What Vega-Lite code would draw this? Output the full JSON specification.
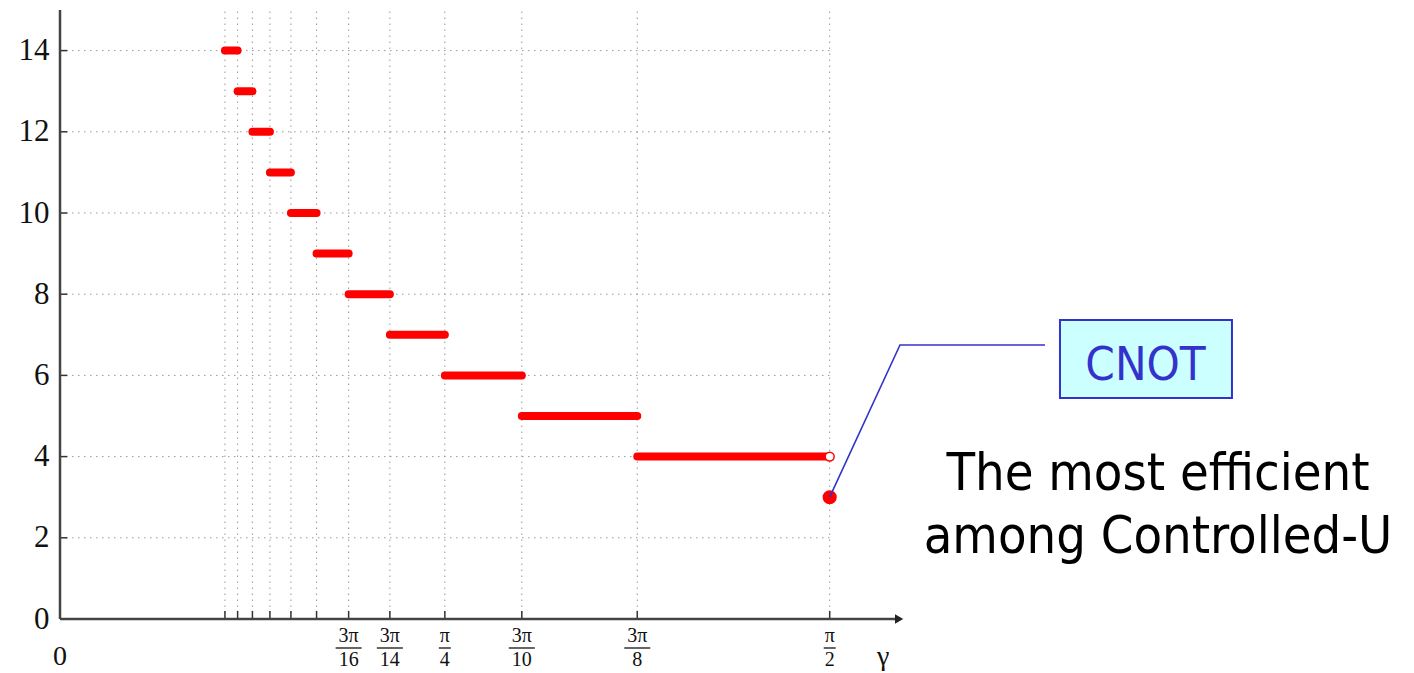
{
  "$schema": "https://vega.github.io/schema/vega-lite/v6.json",
  "width": 845,
  "height": 609,
  "autosize": "none",
  "padding": {"left": 60, "top": 10, "right": 509, "bottom": 54},
  "background": "white",
  "config": {"view": {"stroke": null}},
  "datasets": {
    "ticks": [
      {"g": 0.33660}, {"g": 0.36249}, {"g": 0.39270}, {"g": 0.42840}, {"g": 0.47124}, {"g": 0.52360},
      {"g": 0.58905}, {"g": 0.67320}, {"g": 0.78540}, {"g": 0.94248}, {"g": 1.17810}, {"g": 1.57080}
    ],
    "ygrid": [{"v": 2}, {"v": 4}, {"v": 6}, {"v": 8}, {"v": 10}, {"v": 12}, {"v": 14}],
    "segs": [
      {"k": 14, "lo": 0.33660, "hi": 0.36249},
      {"k": 13, "lo": 0.36249, "hi": 0.39270},
      {"k": 12, "lo": 0.39270, "hi": 0.42840},
      {"k": 11, "lo": 0.42840, "hi": 0.47124},
      {"k": 10, "lo": 0.47124, "hi": 0.52360},
      {"k": 9, "lo": 0.52360, "hi": 0.58905},
      {"k": 8, "lo": 0.58905, "hi": 0.67320},
      {"k": 7, "lo": 0.67320, "hi": 0.78540},
      {"k": 6, "lo": 0.78540, "hi": 0.94248},
      {"k": 5, "lo": 0.94248, "hi": 1.17810},
      {"k": 4, "lo": 1.17810, "hi": 1.57080}
    ],
    "fracs": [
      {"g": 0.58905, "num": "3π", "den": "16", "wide": true},
      {"g": 0.67320, "num": "3π", "den": "14", "wide": true},
      {"g": 0.78540, "num": "π", "den": "4", "wide": false},
      {"g": 0.94248, "num": "3π", "den": "10", "wide": true},
      {"g": 1.17810, "num": "3π", "den": "8", "wide": true},
      {"g": 1.57080, "num": "π", "den": "2", "wide": false}
    ],
    "callout": [
      {"i": 0, "x": 2.0102, "y": 6.749},
      {"i": 1, "x": 1.7143, "y": 6.749},
      {"i": 2, "x": 1.5708, "y": 3.0}
    ],
    "box": [{"x1": 2.0408, "x2": 2.3918, "y1": 7.365, "y2": 5.443, "label": "CNOT", "lx": 2.2153, "ly": 5.887}],
    "notes": [
      {"x": 2.2408, "y": 3.177, "text": "The most efficient"},
      {"x": 2.2408, "y": 1.626, "text": "among Controlled-U"}
    ]
  },
  "layer": [
    {
      "data": {"name": "ticks"},
      "mark": {"type": "rule", "color": "#999999", "strokeWidth": 1, "strokeDash": [1.5, 4.5]},
      "encoding": {
        "x": {"field": "g", "type": "quantitative", "scale": {"domain": [0, 1.7245], "nice": false, "zero": false}, "axis": null},
        "y": {"datum": 0, "type": "quantitative", "scale": {"domain": [0, 15], "nice": false}},
        "y2": {"datum": 15}
      }
    },
    {
      "data": {"name": "ygrid"},
      "mark": {"type": "rule", "color": "#999999", "strokeWidth": 1, "strokeDash": [1.5, 4.5]},
      "encoding": {
        "y": {"field": "v", "type": "quantitative", "scale": {"domain": [0, 15], "nice": false},
              "axis": {"values": [0, 2, 4, 6, 8, 10, 12, 14], "domain": false, "ticks": false, "tickSize": 0, "grid": false,
                       "title": null, "labelFont": "Liberation Serif", "labelFontSize": 31, "labelColor": "#111111", "labelPadding": 11}},
        "x": {"datum": 0, "type": "quantitative", "scale": {"domain": [0, 1.7245], "nice": false, "zero": false}},
        "x2": {"datum": 1.5708}
      }
    },
    {
      "data": {"name": "ticks"},
      "mark": {"type": "rule", "color": "#333333", "strokeWidth": 1.5},
      "encoding": {
        "x": {"field": "g", "type": "quantitative", "scale": {"domain": [0, 1.7245], "nice": false, "zero": false}},
        "y": {"datum": 0, "type": "quantitative", "scale": {"domain": [0, 15], "nice": false}},
        "y2": {"datum": 0.2}
      }
    },
    {
      "data": {"name": "ygrid"},
      "mark": {"type": "rule", "color": "#333333", "strokeWidth": 1.5},
      "encoding": {
        "y": {"field": "v", "type": "quantitative", "scale": {"domain": [0, 15], "nice": false}},
        "x": {"datum": 0, "type": "quantitative", "scale": {"domain": [0, 1.7245], "nice": false, "zero": false}},
        "x2": {"datum": 0.015}
      }
    },
    {
      "data": {"values": [{}]},
      "mark": {"type": "rule", "color": "#444444", "strokeWidth": 2.5},
      "encoding": {
        "x": {"datum": 0, "type": "quantitative", "scale": {"domain": [0, 1.7245], "nice": false, "zero": false}},
        "x2": {"datum": 1.705},
        "y": {"datum": 0, "type": "quantitative", "scale": {"domain": [0, 15], "nice": false}}
      }
    },
    {
      "data": {"values": [{}]},
      "mark": {"type": "rule", "color": "#444444", "strokeWidth": 2.5},
      "encoding": {
        "x": {"datum": 0, "type": "quantitative", "scale": {"domain": [0, 1.7245], "nice": false, "zero": false}},
        "y": {"datum": 0, "type": "quantitative", "scale": {"domain": [0, 15], "nice": false}},
        "y2": {"datum": 15}
      }
    },
    {
      "data": {"values": [{}]},
      "mark": {"type": "point", "shape": "triangle-right", "filled": true, "color": "#222222", "size": 90, "opacity": 1},
      "encoding": {
        "x": {"datum": 1.7125, "type": "quantitative", "scale": {"domain": [0, 1.7245], "nice": false, "zero": false}},
        "y": {"datum": 0, "type": "quantitative", "scale": {"domain": [0, 15], "nice": false}}
      }
    },
    {
      "data": {"name": "segs"},
      "mark": {"type": "rule", "color": "#ff0000", "strokeWidth": 8, "strokeCap": "round"},
      "encoding": {
        "x": {"field": "lo", "type": "quantitative", "scale": {"domain": [0, 1.7245], "nice": false, "zero": false}},
        "x2": {"field": "hi"},
        "y": {"field": "k", "type": "quantitative", "scale": {"domain": [0, 15], "nice": false}}
      }
    },
    {
      "data": {"values": [{"g": 1.5708, "v": 4}]},
      "mark": {"type": "point", "shape": "circle", "fill": "white", "stroke": "#ff0000", "strokeWidth": 1.5, "size": 80, "opacity": 1},
      "encoding": {
        "x": {"field": "g", "type": "quantitative", "scale": {"domain": [0, 1.7245], "nice": false, "zero": false}},
        "y": {"field": "v", "type": "quantitative", "scale": {"domain": [0, 15], "nice": false}}
      }
    },
    {
      "data": {"values": [{"g": 1.5708, "v": 3}]},
      "mark": {"type": "circle", "color": "#ff0000", "size": 200, "opacity": 1},
      "encoding": {
        "x": {"field": "g", "type": "quantitative", "scale": {"domain": [0, 1.7245], "nice": false, "zero": false}},
        "y": {"field": "v", "type": "quantitative", "scale": {"domain": [0, 15], "nice": false}}
      }
    },
    {
      "data": {"name": "callout"},
      "mark": {"type": "line", "color": "#3333cc", "strokeWidth": 1.6},
      "encoding": {
        "x": {"field": "x", "type": "quantitative", "scale": {"domain": [0, 1.7245], "nice": false, "zero": false}},
        "y": {"field": "y", "type": "quantitative", "scale": {"domain": [0, 15], "nice": false}},
        "order": {"field": "i", "type": "quantitative"}
      }
    },
    {
      "data": {"name": "box"},
      "mark": {"type": "rect", "fill": "#ccffff", "stroke": "#3333cc", "strokeWidth": 2},
      "encoding": {
        "x": {"field": "x1", "type": "quantitative", "scale": {"domain": [0, 1.7245], "nice": false, "zero": false}},
        "x2": {"field": "x2"},
        "y": {"field": "y1", "type": "quantitative", "scale": {"domain": [0, 15], "nice": false}},
        "y2": {"field": "y2"}
      }
    },
    {
      "data": {"name": "box"},
      "mark": {"type": "text", "font": "DejaVu Sans Condensed, DejaVu Sans", "fontSize": 47, "color": "#3333cc", "align": "center", "baseline": "alphabetic"},
      "encoding": {
        "x": {"field": "lx", "type": "quantitative", "scale": {"domain": [0, 1.7245], "nice": false, "zero": false}},
        "y": {"field": "ly", "type": "quantitative", "scale": {"domain": [0, 15], "nice": false}},
        "text": {"field": "label"}
      }
    },
    {
      "data": {"name": "notes"},
      "mark": {"type": "text", "font": "DejaVu Sans Condensed, DejaVu Sans", "fontSize": 52, "color": "#000000", "align": "center", "baseline": "alphabetic"},
      "encoding": {
        "x": {"field": "x", "type": "quantitative", "scale": {"domain": [0, 1.7245], "nice": false, "zero": false}},
        "y": {"field": "y", "type": "quantitative", "scale": {"domain": [0, 15], "nice": false}},
        "text": {"field": "text"}
      }
    },
    {
      "data": {"name": "fracs"},
      "mark": {"type": "text", "font": "Liberation Serif", "fontSize": 20, "color": "#111111", "align": "center", "baseline": "middle", "dy": 17},
      "encoding": {
        "x": {"field": "g", "type": "quantitative", "scale": {"domain": [0, 1.7245], "nice": false, "zero": false}},
        "y": {"datum": 0, "type": "quantitative", "scale": {"domain": [0, 15], "nice": false}},
        "text": {"field": "num"}
      }
    },
    {
      "data": {"name": "fracs"},
      "mark": {"type": "text", "font": "Liberation Serif", "fontSize": 20, "color": "#111111", "align": "center", "baseline": "middle", "dy": 41},
      "encoding": {
        "x": {"field": "g", "type": "quantitative", "scale": {"domain": [0, 1.7245], "nice": false, "zero": false}},
        "y": {"datum": 0, "type": "quantitative", "scale": {"domain": [0, 15], "nice": false}},
        "text": {"field": "den"}
      }
    },
    {
      "data": {"name": "fracs"},
      "transform": [{"filter": "datum.wide"}],
      "mark": {"type": "rule", "color": "#111111", "strokeWidth": 1.3, "xOffset": -13, "x2Offset": 13, "yOffset": 29},
      "encoding": {
        "x": {"field": "g", "type": "quantitative", "scale": {"domain": [0, 1.7245], "nice": false, "zero": false}},
        "x2": {"field": "g"},
        "y": {"datum": 0, "type": "quantitative", "scale": {"domain": [0, 15], "nice": false}}
      }
    },
    {
      "data": {"name": "fracs"},
      "transform": [{"filter": "!datum.wide"}],
      "mark": {"type": "rule", "color": "#111111", "strokeWidth": 1.3, "xOffset": -6, "x2Offset": 6, "yOffset": 29},
      "encoding": {
        "x": {"field": "g", "type": "quantitative", "scale": {"domain": [0, 1.7245], "nice": false, "zero": false}},
        "x2": {"field": "g"},
        "y": {"datum": 0, "type": "quantitative", "scale": {"domain": [0, 15], "nice": false}}
      }
    },
    {
      "data": {"values": [{"g": 0, "t": "0"}, {"g": 1.68, "t": "γ"}]},
      "mark": {"type": "text", "font": "Liberation Serif", "fontSize": 28, "color": "#111111", "align": "center", "baseline": "middle"},
      "encoding": {
        "x": {"field": "g", "type": "quantitative", "scale": {"domain": [0, 1.7245], "nice": false, "zero": false}},
        "y": {"datum": 0, "type": "quantitative", "scale": {"domain": [0, 15], "nice": false}},
        "text": {"field": "t"},
        "yOffset": {"condition": {"test": "datum.t == '0'", "value": 29}, "value": 38},
        "fontStyle": {"condition": {"test": "datum.t == '0'", "value": "normal"}, "value": "italic"}
      }
    }
  ]
}
